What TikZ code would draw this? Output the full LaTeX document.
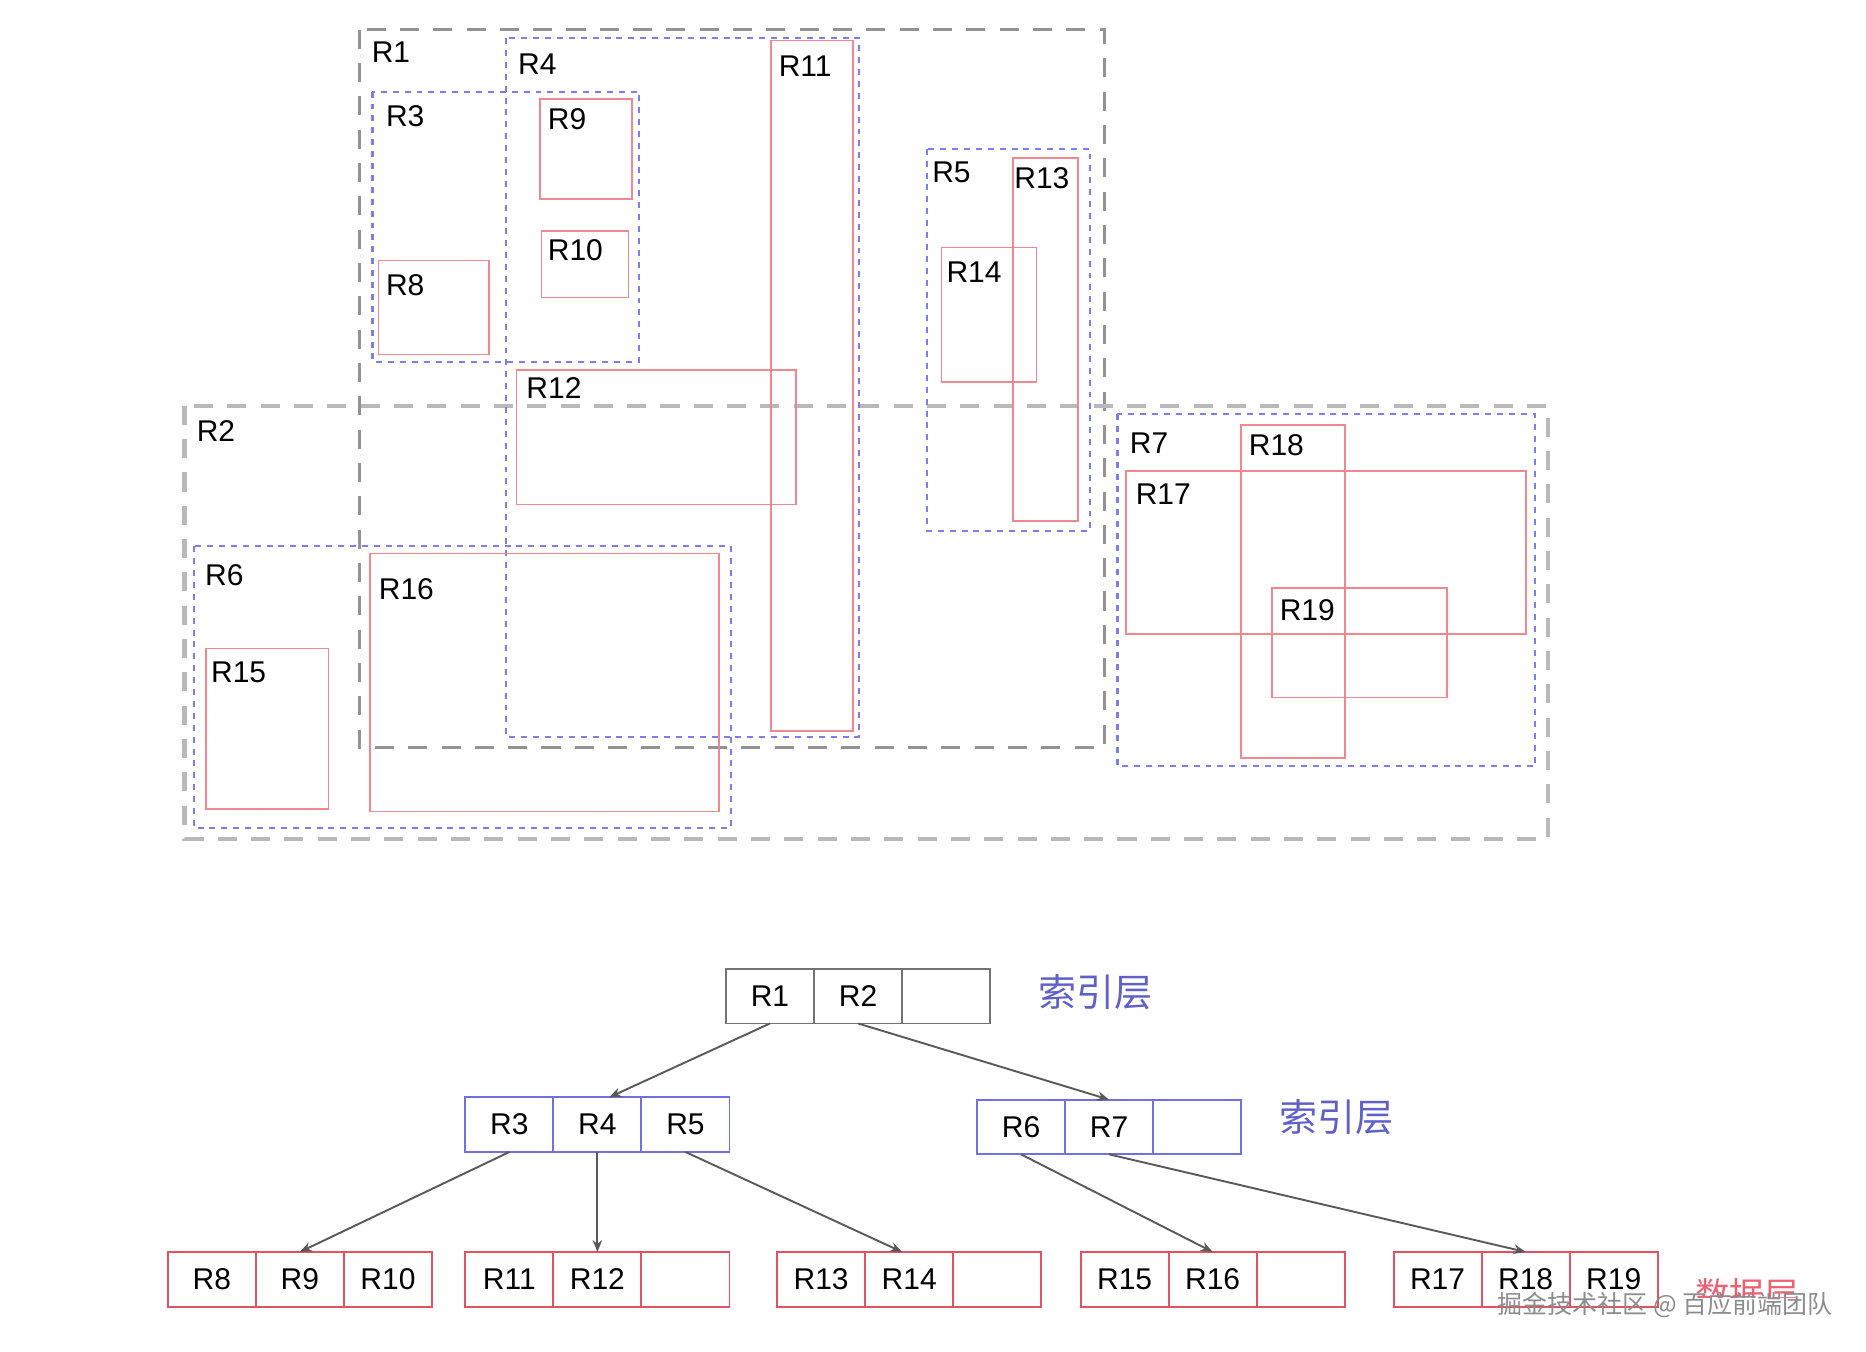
\documentclass[tikz,border=0pt]{standalone}
\usepackage{fontspec}
\setmainfont{Liberation Sans}
\newfontfamily\cjk{Noto Sans CJK SC}
\usepackage{xcolor}
\usetikzlibrary{arrows.meta,positioning}

\definecolor{regred}{RGB}{242,135,145}
\definecolor{regblue}{RGB}{125,125,235}
\definecolor{leafred}{RGB}{226,82,98}
\definecolor{idxblue}{RGB}{112,112,222}
\definecolor{lblblue}{RGB}{96,96,200}
\definecolor{datared}{RGB}{236,96,116}

\begin{document}
\begin{tikzpicture} [ x=0.5pt, y=-0.5pt,
    bigbox/.style={draw=gray!85, line width=1.2pt, dash pattern=on 8pt off 6pt},
    midbox/.style={draw=regblue, line width=0.9pt, dash pattern=on 2.5pt off 2.5pt},
    leafrect/.style={draw=regred, line width=0.7pt},
    rlabel/.style={anchor=west, inner sep=0pt, font=\fontsize{12.6}{14}\selectfont},
    cell/.style={minimum width=37pt, minimum height=23pt, inner sep=0pt, outer sep=0pt,
        line width=0.8pt, font=\fontsize{12.6}{14}\selectfont},
    rootcell/.style={cell, draw=gray!90!black},
    idxcell/.style={cell, draw=idxblue},
    datacell/.style={cell, draw=leafred},
    layer/.style={anchor=west, inner sep=0pt, font=\cjk\fontsize{16}{18}\selectfont},
    link/.style={draw=gray!70!black, line width=0.8pt, -{Stealth[length=5pt,width=4pt]}},
    ]
    \useasboundingbox (0,0) rectangle (1568,1136);

    % regions
    \draw[bigbox] (302,25) rectangle (928,628);
    \draw[bigbox, draw=gray!55, line width=1.8pt] (155,341) rectangle (1301,705);

    \draw[midbox] (313,77) rectangle (537,304)
    (425,32) rectangle (722,619)
    (779,125) rectangle (916,446)
    (163,459) rectangle (614,696)
    (939,348) rectangle (1290,644)
    ;

    \draw[leafrect] (318,219) rectangle (411,298)
    (454,83) rectangle (531,167)
    (455,194) rectangle (528,250)
    (648,34) rectangle (717,614)
    (434,311) rectangle (669,424)
    (851,133) rectangle (906,438)
    (791,208) rectangle (871,321)
    (173,545) rectangle (276,680)
    (311,465) rectangle (604,682)
    (946,396) rectangle (1282,533)
    (1043,357) rectangle (1130,637)
    (1069,494) rectangle (1216,586)
    ;

    \node[rlabel] (l1) at (312,44) {R1};
    \node[rlabel] (l2) at (165,362) {R2};
    \node[rlabel] (l3) at (324,98) {R3};
    \node[rlabel] (l4) at (435,54) {R4};
    \node[rlabel] (l5) at (783,145) {R5};
    \node[rlabel] (l6) at (172,483) {R6};
    \node[rlabel] (l7) at (949,372) {R7};
    \node[rlabel] (l8) at (324,240) {R8};
    \node[rlabel] (l9) at (460,100) {R9};
    \node[rlabel] (l10) at (460,210) {R10};
    \node[rlabel] (l11) at (654,56) {R11};
    \node[rlabel] (l12) at (442,326) {R12};
    \node[rlabel] (l13) at (852,150) {R13};
    \node[rlabel] (l14) at (795,229) {R14};
    \node[rlabel] (l15) at (177,565) {R15};
    \node[rlabel] (l16) at (318,495) {R16};
    \node[rlabel] (l17) at (954,415) {R17};
    \node[rlabel] (l18) at (1049,374) {R18};
    \node[rlabel] (l19) at (1075,513) {R19};

    % tree
    \node[rootcell] (r1) at (647,837) {R1};
    \node[rootcell, right=0pt of r1] (r2) {R2};
    \node[rootcell, right=0pt of r2] (r0) {};
    \node[layer, text=lblblue] (top) at (872,834) {索引层};

    \node[idxcell] (r3) at (428,945) {R3};
    \node[idxcell, right=0pt of r3] (r4) {R4};
    \node[idxcell, right=0pt of r4] (r5) {R5};

    \node[idxcell] (r6) at (858,947) {R6};
    \node[idxcell, right=0pt of r6] (r7) {R7};
    \node[idxcell, right=0pt of r7] (rx) {};
    \node[layer, text=lblblue] (mid) at (1075,939) {索引层};

    \node[datacell] (r8) at (178,1075) {R8};
    \node[datacell, right=0pt of r8] (r9) {R9};
    \node[datacell, right=0pt of r9] (r10) {R10};

    \node[datacell] (r11) at (428,1075) {R11};
    \node[datacell, right=0pt of r11] (r12) {R12};
    \node[datacell, right=0pt of r12] (ra) {};

    \node[datacell] (r13) at (690,1075) {R13};
    \node[datacell, right=0pt of r13] (r14) {R14};
    \node[datacell, right=0pt of r14] (rb) {};

    \node[datacell] (r15) at (945,1075) {R15};
    \node[datacell, right=0pt of r15] (r16) {R16};
    \node[datacell, right=0pt of r16] (rc) {};

    \node[datacell] (r17) at (1208,1075) {R17};
    \node[datacell, right=0pt of r17] (r18) {R18};
    \node[datacell, right=0pt of r18] (r19) {R19};

    \begin{scope}
    \clip (1400,1060) rectangle (1540,1090);
    \node[layer, text=datared, font=\cjk\fontsize{14.5}{16}\selectfont] (bottom) at (1424,1088) {数据层};
    \end{scope}
    \node[anchor=west, inner sep=0pt, text=gray!90, font=\cjk\fontsize{10.5}{12}\selectfont] (mark) at (1258,1097) {掘金技术社区 @ 百应前端团队};

    \draw[link] (r1.south) -- ([xshift=5pt]r4.north);
    \draw[link] (r2.south) -- (r7.north);
    \draw[link] (r3.south) -- (r9.north);
    \draw[link] (r4.south) -- (r12.north);
    \draw[link] (r5.south) -- ([xshift=-3pt]r14.north);
    \draw[link] (r6.south) -- (r16.north);
    \draw[link] (r7.south) -- (r18.north);

\end{tikzpicture}
\end{document}
